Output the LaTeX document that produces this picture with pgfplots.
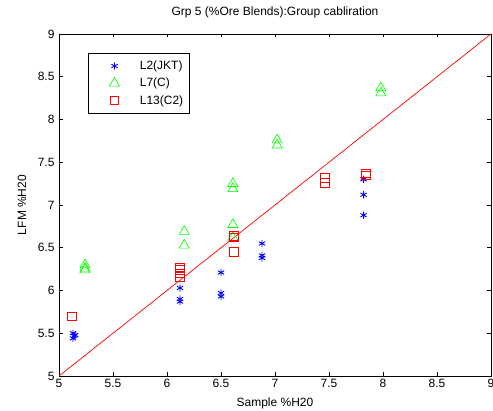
\documentclass[border=0pt]{standalone}
\usepackage{fontspec}
\setmainfont{Liberation Sans}
\usepackage{pgfplots}
\pgfplotsset{compat=1.18}
\begin{document}
\begin{tikzpicture}[x=1pt,y=1pt]
\begin{axis}[
    at={(59pt,35pt)}, anchor=south west,
    width=432pt, height=342pt,
    scale only axis,
    xmin=5, xmax=9, ymin=5, ymax=9,
    xtick={5,5.5,...,9}, ytick={5,5.5,...,9},
    xticklabels={5,5.5,6,6.5,7,7.5,8,8.5,9},
    yticklabels={5,5.5,6,6.5,7,7.5,8,8.5,9},
    tick align=inside,
    major tick length=3.5pt,
    xtick pos=both, ytick pos=both,
    axis line style={line width=0.8pt},
    tick style={line width=0.6pt, black},
    ticklabel style={font=\fontsize{12}{14}\selectfont},
    yticklabel style={xshift=-1pt},
    title={Grp 5 (\%Ore Blends):Group cabliration},
    title style={font=\fontsize{12}{14}\selectfont,
        at={(axis description cs:0.5,1.047)}, anchor=center},
    xlabel={Sample \%H20}, ylabel={LFM \%H20},
    label style={font=\fontsize{12}{14}\selectfont},
    xlabel style={at={(axis description cs:0.5,-0.079)}, anchor=center},
    ylabel style={at={(axis description cs:-0.0856,0.5)}, anchor=center},
    legend style={at={(0.067,0.944)}, anchor=north west, draw=black,
        line width=0.6pt,
        font=\fontsize{12}{14}\selectfont,
        inner xsep=4pt, inner ysep=5pt, row sep=2pt,
        nodes={inner ysep=2.5pt}},
    legend cell align=left,
    legend image code/.code={
        \path (0pt,0pt) (45pt,0pt);
        \draw[#1] plot coordinates {(22pt,0pt)};},
]
\addplot[only marks, mark=asterisk, blue, mark size=3.6pt,
    mark options={draw=blue, line width=0.9pt}] coordinates {
  (5.13,5.50) (5.14,5.47) (5.13,5.44) (5.15,5.48)
  (6.12,6.03) (6.12,5.90) (6.12,5.87)
  (6.50,6.21) (6.50,5.97) (6.50,5.93)
  (6.88,6.55) (6.88,6.41) (6.88,6.38)
  (7.82,7.30) (7.82,7.12) (7.82,6.88)
};
\addplot[only marks, mark=triangle, green, mark size=5.8pt,
    mark options={draw=green, line width=0.65pt}] coordinates {
  (5.24,6.30) (5.24,6.26) (5.24,6.24)
  (6.16,6.69) (6.16,6.53)
  (6.61,7.25) (6.61,7.19) (6.61,6.77) (6.61,6.62)
  (7.02,7.76) (7.02,7.70)
  (7.98,8.37) (7.98,8.31)
};
\addplot[only marks, mark=square, red, mark size=4.2pt,
    mark options={draw=red, line width=0.65pt}] coordinates {
  (5.12,5.70)
  (6.12,6.27) (6.12,6.24) (6.12,6.20) (6.12,6.16)
  (6.62,6.64) (6.62,6.62) (6.62,6.45)
  (7.46,7.32) (7.46,7.26)
  (7.84,7.35) (7.84,7.37)
};
\addplot[red, line width=0.7pt, no marks, forget plot] coordinates {(5,5) (9,9)};
\legend{L2(JKT), L7(C), L13(C2)}
\end{axis}
\pgfresetboundingbox
\path[use as bounding box] (0pt,0pt) rectangle (493pt,411pt);
\end{tikzpicture}
\end{document}
